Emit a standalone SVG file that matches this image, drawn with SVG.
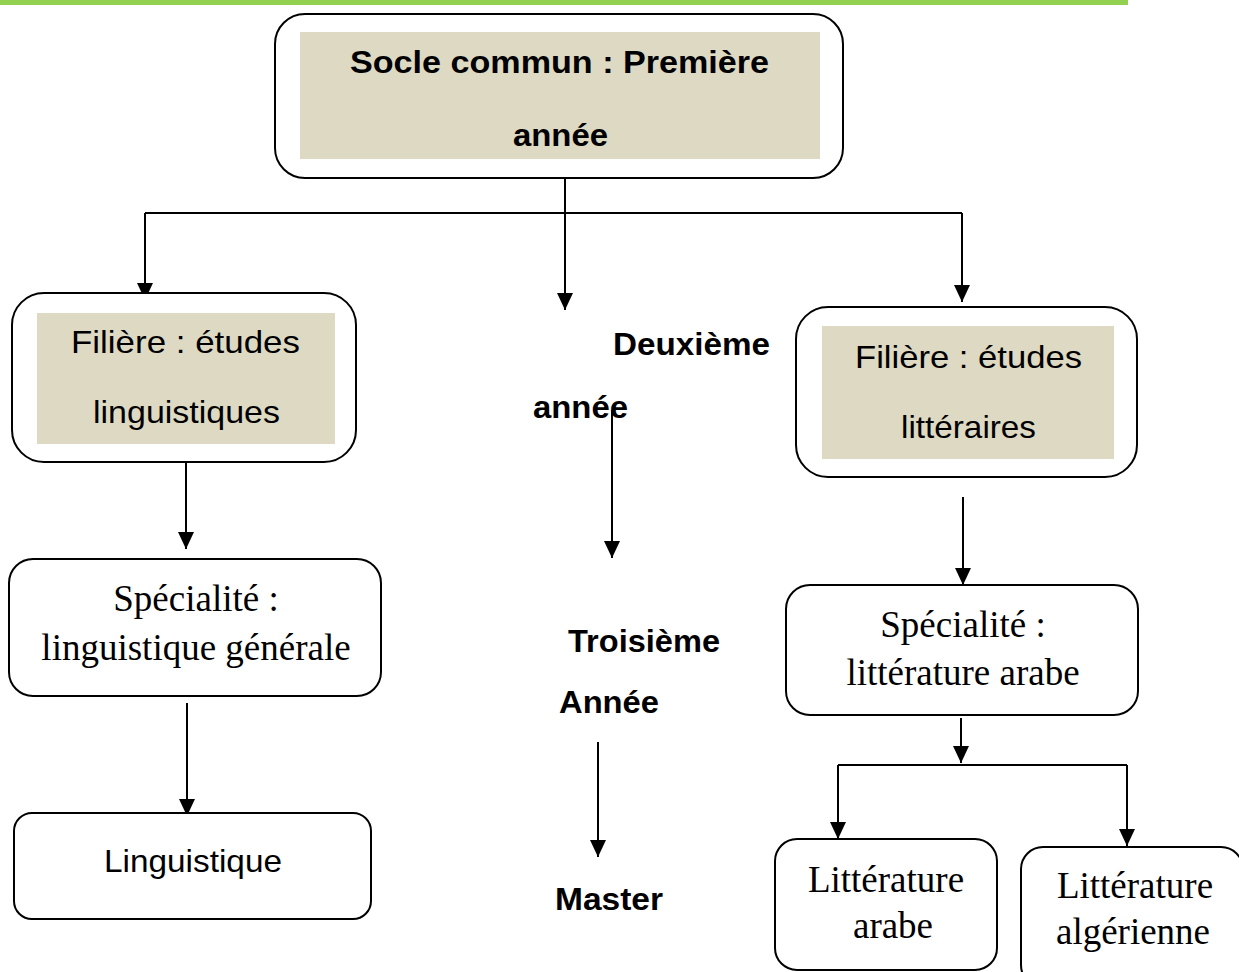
<svg xmlns="http://www.w3.org/2000/svg" width="1239" height="972" viewBox="0 0 1239 972">
<style>
.box{fill:#ffffff;stroke:#000000;stroke-width:2}
.shade{fill:#DDD9C3}
.con{fill:none;stroke:#000000;stroke-width:2}
.b{font-family:"Liberation Sans",Arial,sans-serif;font-weight:bold;font-size:31px;fill:#000000}
.s{font-family:"Liberation Sans",Arial,sans-serif;font-size:32px;fill:#000000}
.t{font-family:"Liberation Serif","Times New Roman",serif;font-size:37px;fill:#000000}
</style>
<defs>
<marker id="ah" viewBox="0 0 17 16" refX="17" refY="8" markerWidth="17" markerHeight="16" markerUnits="userSpaceOnUse" orient="auto">
<path d="M0,0 L17,8 L0,16 z" fill="#000000"/>
</marker>
</defs>
<rect x="0" y="0" width="1128" height="5" fill="#92D050"/>
<g id="connectors">
<path class="con" d="M145,213 H962"/>
<path class="con" d="M565,178 V310" marker-end="url(#ah)"/>
<path class="con" d="M145,213 V300" marker-end="url(#ah)"/>
<path class="con" d="M962,213 V302" marker-end="url(#ah)"/>
<path class="con" d="M186,462 V549" marker-end="url(#ah)"/>
<path class="con" d="M187,703 V816" marker-end="url(#ah)"/>
<path class="con" d="M612,410 V558" marker-end="url(#ah)"/>
<path class="con" d="M598,742 V857" marker-end="url(#ah)"/>
<path class="con" d="M963,497 V585" marker-end="url(#ah)"/>
<path class="con" d="M961,718 V763" marker-end="url(#ah)"/>
<path class="con" d="M838,765 H1127"/>
<path class="con" d="M838,765 V839" marker-end="url(#ah)"/>
<path class="con" d="M1127,765 V846" marker-end="url(#ah)"/>
</g>
<g id="socle">
<rect class="box" x="275" y="14" width="568" height="164" rx="30" ry="30"/>
<rect class="shade" x="300" y="32" width="520" height="127"/>
<text class="b" x="350" y="73" textLength="419" lengthAdjust="spacingAndGlyphs">Socle commun : Première</text>
<text class="b" x="513" y="146" textLength="95" lengthAdjust="spacingAndGlyphs">année</text>
</g>
<g id="filiere-ling">
<rect class="box" x="12" y="293" width="344" height="169" rx="32" ry="32"/>
<rect class="shade" x="37" y="313" width="298" height="131"/>
<text class="s" x="71" y="353" textLength="229" lengthAdjust="spacingAndGlyphs">Filière : études</text>
<text class="s" x="93" y="423" textLength="187" lengthAdjust="spacingAndGlyphs">linguistiques</text>
</g>
<g id="deuxieme">
<text class="b" x="613" y="355" textLength="157" lengthAdjust="spacingAndGlyphs">Deuxième</text>
<text class="b" x="533" y="418" textLength="95" lengthAdjust="spacingAndGlyphs">année</text>
</g>
<g id="filiere-litt">
<rect class="box" x="796" y="307" width="341" height="170" rx="32" ry="32"/>
<rect class="shade" x="822" y="326" width="292" height="133"/>
<text class="s" x="855" y="368" textLength="227" lengthAdjust="spacingAndGlyphs">Filière : études</text>
<text class="s" x="901" y="438" textLength="135" lengthAdjust="spacingAndGlyphs">littéraires</text>
</g>
<g id="spec-ling">
<rect class="box" x="9" y="559" width="372" height="137" rx="24" ry="24"/>
<text class="t" x="196" y="611" text-anchor="middle">Spécialité :</text>
<text class="t" x="196" y="660" text-anchor="middle">linguistique générale</text>
</g>
<g id="troisieme">
<text class="b" x="568" y="652" textLength="152" lengthAdjust="spacingAndGlyphs">Troisième</text>
<text class="b" x="559" y="713" textLength="100" lengthAdjust="spacingAndGlyphs">Année</text>
</g>
<g id="spec-litt">
<rect class="box" x="786" y="585" width="352" height="130" rx="24" ry="24"/>
<text class="t" x="963" y="637" text-anchor="middle">Spécialité :</text>
<text class="t" x="963" y="685" text-anchor="middle">littérature arabe</text>
</g>
<g id="linguistique">
<rect class="box" x="14" y="813" width="357" height="106" rx="18" ry="18"/>
<text class="s" x="104" y="872" textLength="178" lengthAdjust="spacingAndGlyphs">Linguistique</text>
</g>
<g id="master">
<text class="b" x="555" y="910" textLength="108" lengthAdjust="spacingAndGlyphs">Master</text>
</g>
<g id="litt-arabe">
<rect class="box" x="775" y="839" width="222" height="131" rx="22" ry="22"/>
<text class="t" x="886" y="892" text-anchor="middle">Littérature</text>
<text class="t" x="893" y="938" text-anchor="middle">arabe</text>
</g>
<g id="litt-algerienne">
<rect class="box" x="1021" y="847" width="222" height="140" rx="22" ry="22"/>
<text class="t" x="1135" y="898" text-anchor="middle">Littérature</text>
<text class="t" x="1133" y="944" text-anchor="middle">algérienne</text>
</g>
</svg>
